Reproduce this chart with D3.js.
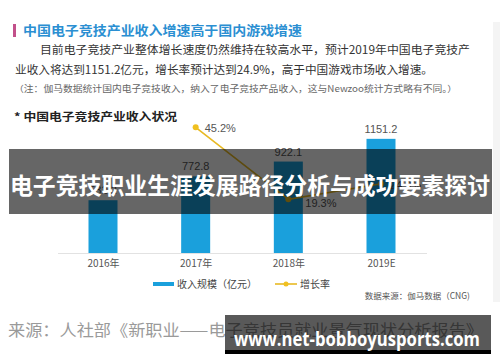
<html>
<head>
<meta charset="utf-8">
<script src="https://d3js.org/d3.v7.min.js"></script>
<style>
body{margin:0;background:#fff;}
svg{display:block;}
</style>
</head>
<body>
<div id="chart"></div>
<script>
// data
var years=["2016年","2017年","2018年","2019E"];
var revenue=[532.2,772.8,922.1,1151.2];
var growthYears=["2017年","2018年","2019E"];
var growth=[45.2,19.3,24.9];
var legendNames=["收入规模（亿元）","增长率"];

var cjk="'Noto Sans CJK SC','Noto Sans',sans-serif";
var num="'Liberation Sans',Arial,sans-serif";

var svg=d3.select("#chart").append("svg")
	.attr("width",500).attr("height",362);

// page edge on the right
svg.append("rect").attr("x",493).attr("y",22).attr("width",7).attr("height",280).attr("fill","#f4f4f4");

// heading block
svg.append("rect").attr("x",13).attr("y",24).attr("width",3).attr("height",13).attr("fill","#c2508a");
svg.append("text").attr("x",23).attr("y",35)
	.attr("font-family",cjk).attr("font-weight","bold").attr("font-size",13)
	.attr("fill","#2b8fd2").attr("textLength",279).attr("lengthAdjust","spacingAndGlyphs")
	.text("中国电子竞技产业收入增速高于国内游戏增速");

var para=[
	{x:40,y:54,w:430,t:"目前电子竞技产业整体增长速度仍然维持在较高水平，预计2019年中国电子竞技产"},
	{x:15,y:74,w:418,t:"业收入将达到1151.2亿元，增长率预计达到24.9%，高于中国游戏市场收入增速。"}
];
svg.selectAll("text.para").data(para).enter().append("text").attr("class","para")
	.attr("x",d=>d.x).attr("y",d=>d.y)
	.attr("font-family",cjk).attr("font-size",11.5).attr("fill","#333")
	.attr("textLength",d=>d.w).attr("lengthAdjust","spacingAndGlyphs")
	.text(d=>d.t);

svg.append("text").attr("x",14).attr("y",92)
	.attr("font-family",cjk).attr("font-size",8.8).attr("fill","#666")
	.attr("textLength",443).attr("lengthAdjust","spacingAndGlyphs")
	.text("（注：伽马数据统计国内电子竞技收入，纳入了电子竞技产品收入，这与Newzoo统计方式略有不同。）");

svg.append("text").attr("x",14).attr("y",121)
	.attr("font-family",cjk).attr("font-weight","bold").attr("font-size",11)
	.attr("fill","#222").attr("textLength",163).attr("lengthAdjust","spacingAndGlyphs")
	.text("* 中国电子竞技产业收入状况");

// chart
var x=d3.scalePoint().domain(years).range([103,381]);
var y=d3.scaleLinear().domain([0,1200]).range([253,134]);
var yg=d3.scaleLinear().domain([0,50]).range([253,114]);
var barW=29;

svg.append("line").attr("x1",58).attr("x2",427).attr("y1",253.5).attr("y2",253.5)
	.attr("stroke","#e2e2e2").attr("stroke-width",1);

svg.selectAll("rect.bar").data(revenue).enter().append("rect").attr("class","bar")
	.attr("x",(d,i)=>x(years[i])-barW/2).attr("width",barW)
	.attr("y",d=>y(d)).attr("height",d=>y(0)-y(d))
	.attr("fill","#1aa0dc");

svg.selectAll("text.val").data(revenue).enter().append("text").attr("class","val")
	.attr("x",(d,i)=>x(years[i])).attr("y",d=>y(d)-6)
	.attr("text-anchor","middle").attr("font-family",num).attr("font-size",11).attr("fill","#555")
	.text(d=>d.toFixed(1));

var xAxis=d3.axisBottom(x).tickSize(0).tickPadding(0);
var gx=svg.append("g").attr("transform","translate(0,262)").call(xAxis);
gx.select(".domain").remove();
gx.selectAll("text").attr("font-family",cjk).attr("font-size",10).attr("fill","#555").attr("dy","0.5em");

var line=d3.line().x((d,i)=>x(growthYears[i])).y(d=>yg(d));
svg.append("path").datum(growth).attr("d",line)
	.attr("fill","none").attr("stroke","#e8b923").attr("stroke-width",1.6);
svg.selectAll("circle.pt").data(growth).enter().append("circle").attr("class","pt")
	.attr("cx",(d,i)=>x(growthYears[i])).attr("cy",d=>yg(d)).attr("r",3)
	.attr("fill","#f0c020");
// labels sit right of the point; the low point gets its label pushed below-right
svg.selectAll("text.gr").data(growth).enter().append("text").attr("class","gr")
	.attr("x",(d,i)=>x(growthYears[i])+(i==1?17:9)).attr("y",(d,i)=>yg(d)+(i==1?8:5))
	.attr("font-family",num).attr("font-size",11).attr("fill","#555")
	.text(d=>d.toFixed(1)+"%");

// legend
svg.append("rect").attr("x",153).attr("y",282).attr("width",21).attr("height",4).attr("fill","#1aa0dc");
svg.append("text").attr("x",177).attr("y",288).attr("font-family",cjk).attr("font-size",10).attr("fill","#444")
	.text(legendNames[0]);
svg.append("line").attr("x1",275).attr("x2",297).attr("y1",284).attr("y2",284).attr("stroke","#e8b923").attr("stroke-width",1.6);
svg.append("circle").attr("cx",286).attr("cy",284).attr("r",2.5).attr("fill","#f0c020");
svg.append("text").attr("x",300).attr("y",288).attr("font-family",cjk).attr("font-size",10).attr("fill","#444")
	.text(legendNames[1]);

svg.append("text").attr("x",470).attr("y",299).attr("text-anchor","end")
	.attr("font-family",cjk).attr("font-size",8.5).attr("fill","#555")
	.text("数据来源：伽马数据（CNG)");

// source line
svg.append("text").attr("x",8).attr("y",336)
	.attr("font-family",cjk).attr("font-size",16).attr("fill","#9a9a9a")
	.attr("textLength",475).attr("lengthAdjust","spacingAndGlyphs")
	.text("来源：人社部《新职业——电子竞技员就业景气现状分析报告》");

// overlay banners
svg.append("rect").attr("x",9).attr("y",149).attr("width",483).attr("height",65)
	.attr("fill","#000").attr("opacity",0.6);
svg.append("text").attr("x",250).attr("y",194).attr("text-anchor","middle")
	.attr("font-family",cjk).attr("font-weight","bold").attr("font-size",23).attr("fill","#fff")
	.attr("textLength",480).attr("lengthAdjust","spacingAndGlyphs")
	.text("电子竞技职业生涯发展路径分析与成功要素探讨");

svg.append("rect").attr("x",225).attr("y",315).attr("width",266).attr("height",35)
	.attr("fill","#000").attr("opacity",0.65);
svg.append("rect").attr("x",225).attr("y",350).attr("width",266).attr("height",4).attr("fill","#000");
svg.append("text").attr("x",234).attr("y",346)
	.attr("font-family","'Open Sans','DejaVu Sans',sans-serif").attr("font-weight","bold").attr("font-size",19).attr("fill","#fff")
	.attr("textLength",246).attr("lengthAdjust","spacingAndGlyphs")
	.text("www.net-bobboyusports.com");
</script>
</body>
</html>
